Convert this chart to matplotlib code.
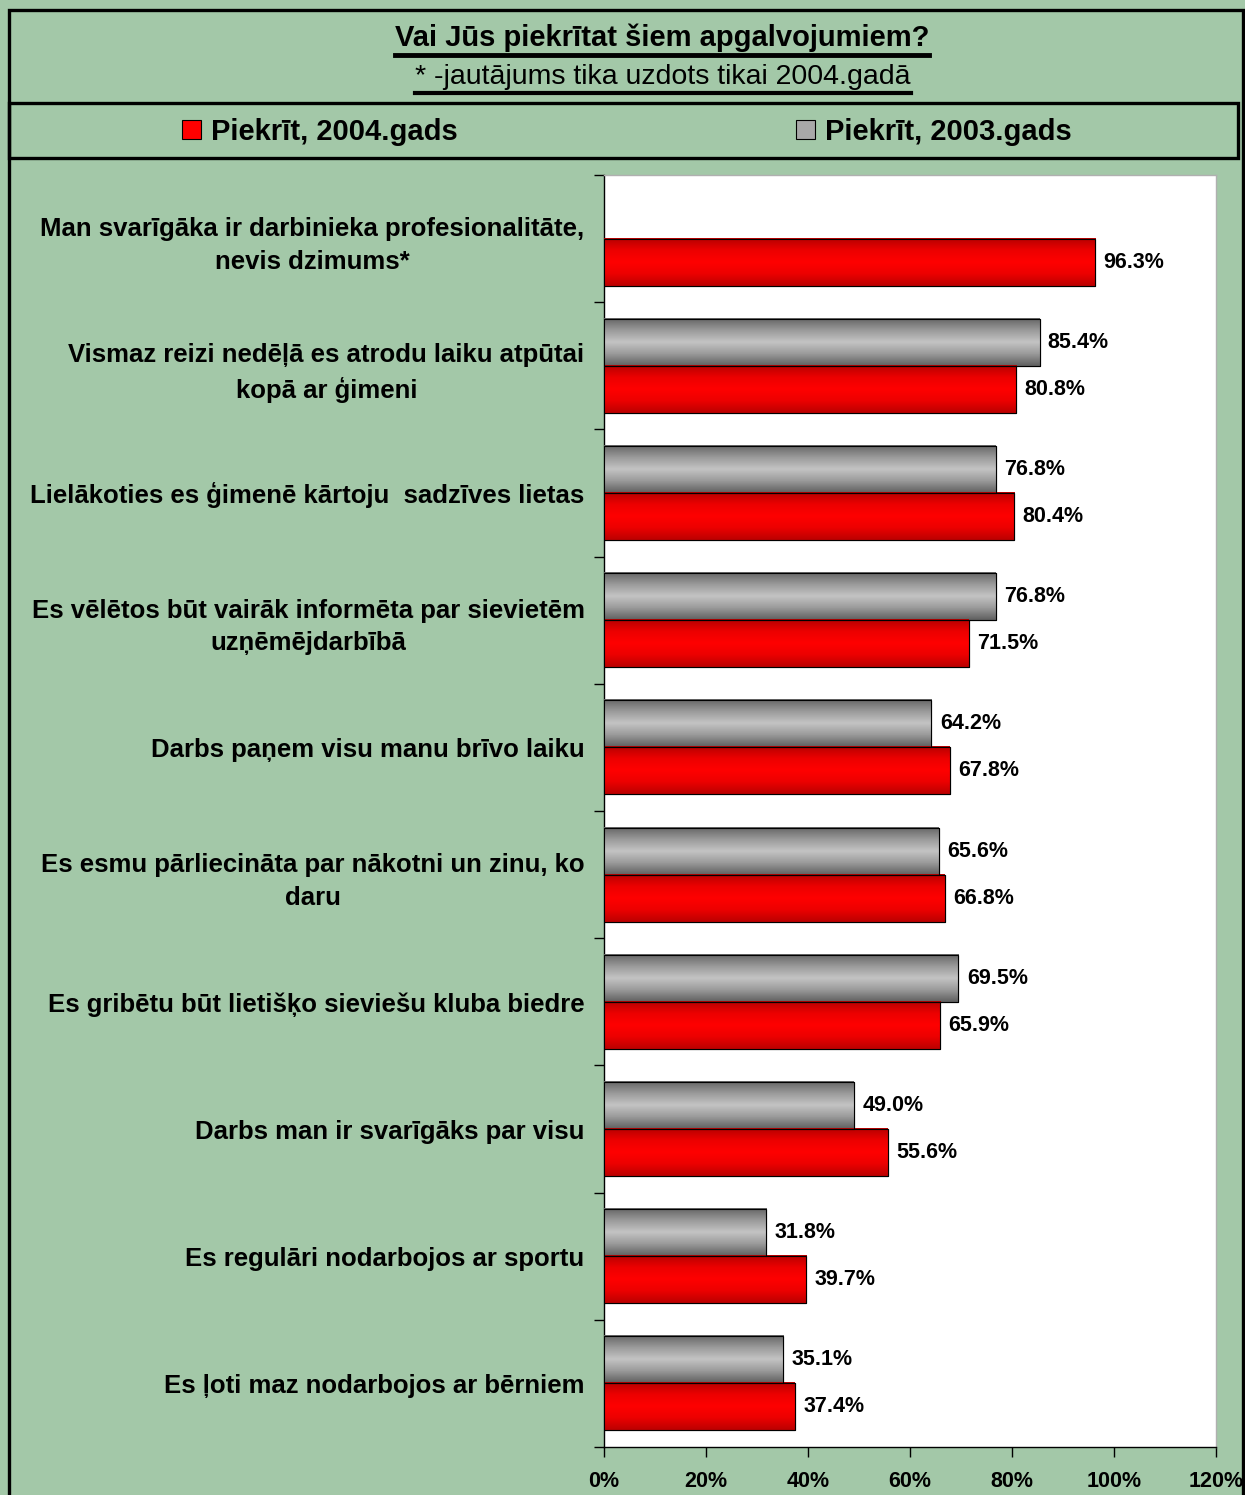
import numpy as np
import matplotlib
matplotlib.use("Agg")
import matplotlib.pyplot as plt
from matplotlib.patches import Rectangle
from matplotlib.lines import Line2D
from matplotlib.colors import LinearSegmentedColormap

plt.rcParams["font.family"] = ["Liberation Sans", "DejaVu Sans"]

# Data
categories = [
    "Man svarīgāka ir darbinieka profesionalitāte,\nnevis dzimums*",
    "Vismaz reizi nedēļā es atrodu laiku atpūtai\nkopā ar ģimeni",
    "Lielākoties es ģimenē kārtoju  sadzīves lietas",
    "Es vēlētos būt vairāk informēta par sievietēm\nuzņēmējdarbībā",
    "Darbs paņem visu manu brīvo laiku",
    "Es esmu pārliecināta par nākotni un zinu, ko\ndaru",
    "Es gribētu būt lietišķo sieviešu kluba biedre",
    "Darbs man ir svarīgāks par visu",
    "Es regulāri nodarbojos ar sportu",
    "Es ļoti maz nodarbojos ar bērniem",
]
agree_2004 = [96.3, 80.8, 80.4, 71.5, 67.8, 66.8, 65.9, 55.6, 39.7, 37.4]
agree_2003 = [np.nan, 85.4, 76.8, 76.8, 64.2, 65.6, 69.5, 49.0, 31.8, 35.1]
series_names = ["Piekrīt, 2004.gads", "Piekrīt, 2003.gads"]
x_ticks = [0, 20, 40, 60, 80, 100, 120]

title = "Vai Jūs piekrītat šiem apgalvojumiem?"
subtitle = "* -jautājums tika uzdots tikai 2004.gadā"

bg = "#A3C8A8"
W, H = 1245, 1495
fig = plt.figure(figsize=(W / 100, H / 100), dpi=100)
fig.patch.set_facecolor(bg)


def fx(px):
    return px / W


def fy(py):
    return 1 - py / H


ax = fig.add_axes([fx(604), fy(1447), fx(1216) - fx(604), fy(175) - fy(1447)])
ax.set_facecolor("white")

y = np.arange(len(categories))
h = 0.37
bars_03 = ax.barh(y - h / 2, agree_2003, height=h, color="#A8A8A8",
                  edgecolor="black", linewidth=0.8, zorder=3)
bars_04 = ax.barh(y + h / 2, agree_2004, height=h, color="#FF0000",
                  edgecolor="black", linewidth=0.8, zorder=3)

# cylinder-like gradient fills
grey_cmap = LinearSegmentedColormap.from_list("g", ["#666666", "#9a9a9a", "#c4c4c4", "#9a9a9a", "#606060"])
red_cmap = LinearSegmentedColormap.from_list("r", ["#B80000", "#EC0000", "#FF0000", "#EC0000", "#BC0000"])
grad = np.linspace(0, 1, 64).reshape(-1, 1)
for bars, cmap in [(bars_03, grey_cmap), (bars_04, red_cmap)]:
    for p in bars:
        w = p.get_width()
        if not np.isfinite(w) or w == 0:
            continue
        x0, y0 = p.get_x(), p.get_y()
        ax.imshow(grad, cmap=cmap, aspect="auto", origin="upper",
                  extent=[x0, x0 + w, y0 + p.get_height(), y0], zorder=3.5)
        ax.add_patch(Rectangle((x0, y0), w, p.get_height(), fill=False,
                               edgecolor="black", linewidth=0.8, zorder=4))

for bars, vals in [(bars_03, agree_2003), (bars_04, agree_2004)]:
    for p, v in zip(bars, vals):
        if np.isnan(v):
            continue
        ax.annotate(f"{v:.1f}%", (v, p.get_y() + p.get_height() / 2),
                    xytext=(6, 0), textcoords="offset points",
                    ha="left", va="center", fontsize=15.5, fontweight="bold", zorder=5)

ax.set_xlim(0, 120)
ax.set_ylim(len(categories) - 0.5, -0.5)
ax.set_xticks(x_ticks)
ax.set_xticklabels([f"{t}%" for t in x_ticks], fontsize=15.5, fontweight="bold")
ax.set_yticks(y)
ax.set_yticklabels(categories, fontsize=18.5, fontweight="bold",
                   multialignment="center", linespacing=1.45)
ax.set_yticks(np.arange(len(categories) + 1) - 0.5, minor=True)
ax.tick_params(axis="y", which="major", length=0, pad=14)
ax.tick_params(axis="y", which="minor", length=7, width=1, direction="out")
ax.tick_params(axis="x", length=7, width=1, direction="out", pad=10)
for s in ["top", "right"]:
    ax.spines[s].set_color("#b0b0b0")
    ax.spines[s].set_linewidth(1)
for s in ["left", "bottom"]:
    ax.spines[s].set_color("black")
    ax.spines[s].set_linewidth(1)

# frames
fig.add_artist(Rectangle((fx(9), fy(1520)), fx(1243) - fx(9), fy(10) - fy(1520),
                         transform=fig.transFigure, fill=False, edgecolor="black",
                         linewidth=2.4, zorder=0))
fig.add_artist(Rectangle((fx(9), fy(158)), fx(1238) - fx(9), fy(103) - fy(158),
                         transform=fig.transFigure, fill=False, edgecolor="black",
                         linewidth=2.4, zorder=0))

t1 = fig.text(fx(662), fy(38), title, ha="center", va="center",
              fontsize=21, fontweight="bold")
t2 = fig.text(fx(663), fy(77), subtitle, ha="center", va="center", fontsize=20.5)

leg = fig.legend([bars_04, bars_03], series_names, loc="center",
                 bbox_to_anchor=(fx(627), fy(132)), ncol=2, frameon=False,
                 handlelength=0.65, handleheight=0.65, handletextpad=0.34,
                 columnspacing=11.6, prop={"size": 21, "weight": "bold"})
for hdl in leg.legend_handles:
    hdl.set_linewidth(0.8)

# underlines
fig.canvas.draw()
r = fig.canvas.get_renderer()
for t, off, lw in [(t1, 3, 3.5), (t2, 3, 3.0)]:
    bb = t.get_window_extent(r)
    yy = (bb.y0 - off) / (H)
    fig.add_artist(Line2D([bb.x0 / W, bb.x1 / W], [yy, yy],
                          transform=fig.transFigure, color="black", linewidth=lw))

fig.savefig("out.png", dpi=100, facecolor=bg)
